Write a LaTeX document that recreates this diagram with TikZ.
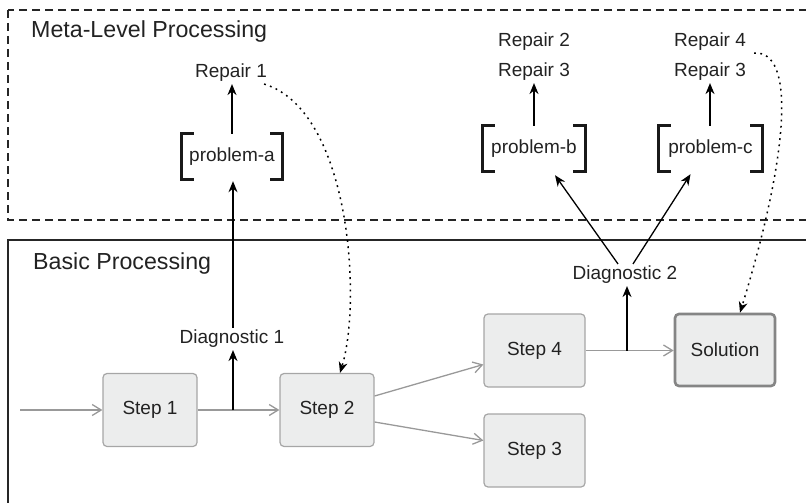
\documentclass[tikz,border=0pt]{standalone}
\usepackage{fontspec}
\setmainfont{Liberation Sans}
\usetikzlibrary{arrows.meta}
\definecolor{boxfill}{HTML}{ECEDED}
\definecolor{boxline}{HTML}{A6A6A6}
\definecolor{flowgray}{HTML}{999999}
\definecolor{solline}{HTML}{858585}
\definecolor{txt}{HTML}{222222}
\newcommand\drawbrackets[1]{%
  \draw[bracketline] ([xshift=12pt]#1.north west) -- (#1.north west) -- (#1.south west) -- ([xshift=12pt]#1.south west);
  \draw[bracketline] ([xshift=-12pt]#1.north east) -- (#1.north east) -- (#1.south east) -- ([xshift=-12pt]#1.south east);}
\begin{document}
\begin{tikzpicture}[x=1pt,y=-1pt,
  lbl/.style={text=txt,font=\fontsize{19}{22}\selectfont,inner sep=2pt},
  ttl/.style={text=txt,font=\fontsize{23.2}{27}\selectfont,inner sep=2pt,anchor=west},
  stepbox/.style={draw=boxline,fill=boxfill,line width=1.2pt,rounded corners=4pt,
    minimum width=94pt,minimum height=73pt,text=txt,font=\fontsize{19}{22}\selectfont},
  solbox/.style={stepbox,draw=solline,line width=2.6pt,minimum width=100pt,minimum height=72pt},
  probnode/.style={text=txt,font=\fontsize{19}{22}\selectfont,minimum height=45pt,inner sep=0pt},
  bracketline/.style={line width=3.2pt,black!90,line cap=butt,line join=miter},
  grayarrow/.style={draw=flowgray,line width=1.3pt,-{Straight Barb[length=9pt,width=11pt,line width=1.3pt]}},
  blackarrow/.style={draw=black,line width=1.3pt,-{Stealth[length=11pt,width=9pt,inset=3.5pt]}},
  dottedarrow/.style={draw=black,line width=1.5pt,dash pattern=on 1.8pt off 4.4pt,
    -{Stealth[length=11pt,width=9pt,inset=3.5pt,line width=0pt,sep=0pt]}},
  frame/.style={line width=1.3pt,draw=black!85}
]
\useasboundingbox (0,0) rectangle (806,503);
\clip (0,0) rectangle (806,503);

% frames
\draw[frame,dash pattern=on 8pt off 5pt] (8,10) rectangle (815,220);
\draw[frame] (8,240) rectangle (815,520);
\node[ttl] (mt) at (29,32) {Meta-Level Processing};
\node[ttl] (bt) at (31,263) {Basic Processing};

% steps
\node[stepbox] (s1) at (150,410) {Step 1};
\node[stepbox] (s2) at (327,410) {Step 2};
\node[stepbox,minimum width=101pt] (s4) at (534.5,350.5) {Step 4};
\node[stepbox,minimum width=101pt] (s3) at (534.5,450.5) {Step 3};
\node[solbox] (sol) at (725,350) {Solution};

% diagnostics
\node[lbl] (dg1) at (232,339) {Diagnostic 1};
\node[lbl] (dg2) at (625,275) {Diagnostic 2};

% problems
\node[probnode,minimum width=100pt] (pa) at (232,156.5) {problem-a};
\node[probnode,minimum width=102pt] (pb) at (534,148.5) {problem-b};
\node[probnode,minimum width=103pt] (pc) at (710.5,148.5) {problem-c};
\drawbrackets{pa}
\drawbrackets{pb}
\drawbrackets{pc}

% repairs
\node[lbl] (r1) at (231,73) {Repair 1};
\node[lbl] (rb2) at (534,42) {Repair 2};
\node[lbl] (rb3) at (534,72) {Repair 3};
\node[lbl] (rc4) at (710,42) {Repair 4};
\node[lbl] (rc3) at (710,72) {Repair 3};

% flow
\coordinate (start) at (20,410);
\coordinate (d1) at (233,410);
\coordinate (d2) at (627,350.5);
\draw[grayarrow] (start) -- (s1.west);
\draw[grayarrow] (s1.east) -- (s2.west);
\draw[grayarrow] ([yshift=14pt]s2.east) -- ([yshift=-14pt]s4.west);
\draw[grayarrow] ([yshift=-12pt]s2.east) -- ([yshift=10pt]s3.west);
\draw[grayarrow] (s4.east) -- (s4.east -| sol.west);

% diagnostics arrows
\draw[blackarrow] (d1) -- (d1 |- dg1.south);
\draw[blackarrow] (dg1.north -| d1) -- ([yshift=-2pt]pa.south -| d1);
\draw[blackarrow] (d2) -- (d2 |- dg2.south);
\draw[blackarrow] ([xshift=-7pt]dg2.north) -- ([xshift=21pt,yshift=-4pt]pb.south);
\draw[blackarrow] ([xshift=8pt]dg2.north) -- ([xshift=-20pt,yshift=-3pt]pc.south);

% repair arrows
\draw[blackarrow] (pa.north) -- (pa.north |- r1.south);
\draw[blackarrow] (pb.north) -- (pb.north |- rb3.south);
\draw[blackarrow] (rc3.south |- pc.north) -- (rc3.south);

% dotted feedback
\draw[dottedarrow] ([xshift=-5pt]r1.south east) .. controls (350,110) and (362,300) .. ([xshift=13pt]s2.north);
\draw[dottedarrow] ([xshift=6pt]rc4.south east) .. controls (795,50) and (790,150) .. ([xshift=15pt]sol.north);
\end{tikzpicture}
\end{document}
